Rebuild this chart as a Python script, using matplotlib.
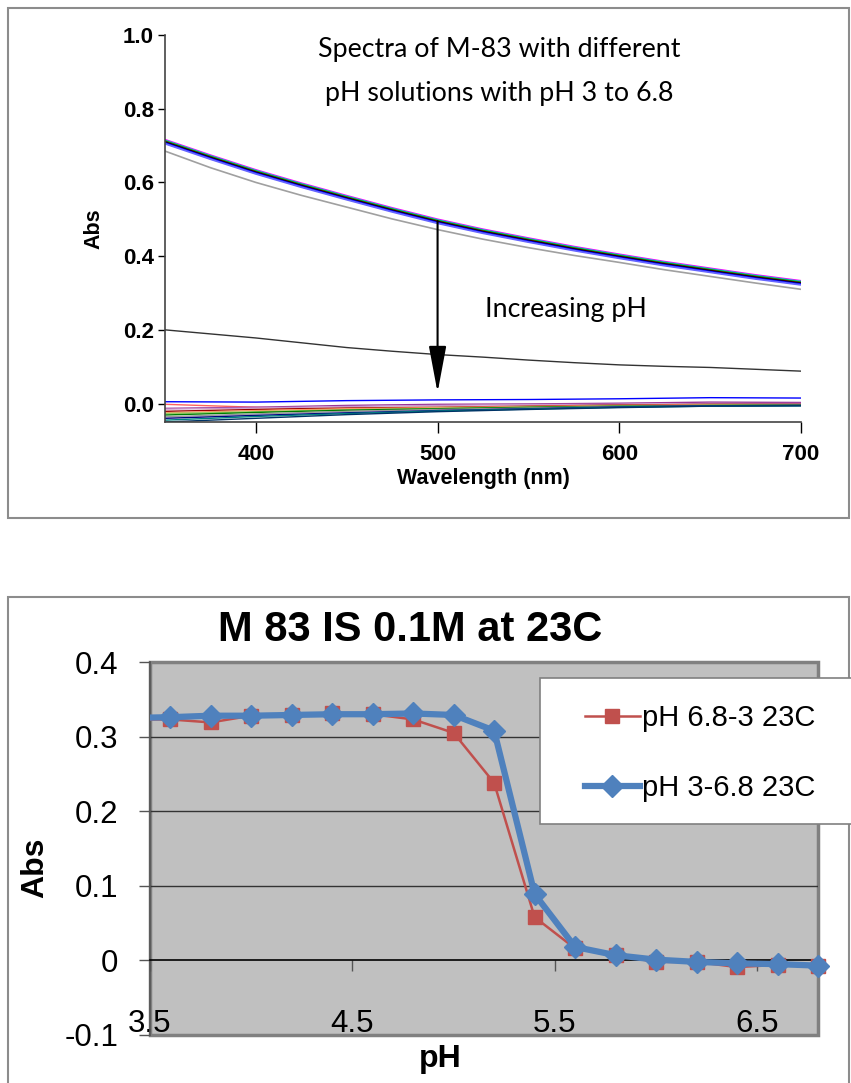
import matplotlib
matplotlib.use("Agg")
import matplotlib.pyplot as plt
from matplotlib.patches import Rectangle
from matplotlib.lines import Line2D

# ---------------- data: top panel (spectra) ----------------
wl = [350, 375, 400, 425, 450, 475, 500, 525, 550, 575, 600, 625, 650, 675, 700]
acid_base = [0.710, 0.668, 0.628, 0.592, 0.558, 0.525, 0.494, 0.467, 0.443,
             0.420, 0.399, 0.379, 0.361, 0.343, 0.327]
acid_offsets = [0.006, 0.004, 0.002, 0.000, -0.001, -0.003, -0.005]
acid_colors = ['#ff00ff', '#00cccc', '#00a000', '#990000', '#000000', '#0000ff', '#6666ff']
gray_curve = [0.685, 0.640, 0.600, 0.565, 0.533, 0.501, 0.472, 0.446, 0.423,
              0.402, 0.383, 0.363, 0.345, 0.327, 0.310]
mid_curve = [0.200, 0.189, 0.178, 0.165, 0.152, 0.142, 0.133, 0.126, 0.118,
             0.111, 0.105, 0.101, 0.098, 0.093, 0.088]

wl_low = [350, 400, 450, 500, 550, 600, 650, 700]
low_curves = {
    '#0000ff': [0.005, 0.004, 0.008, 0.010, 0.011, 0.013, 0.016, 0.015],
    '#ff6060': [-0.002, -0.010, -0.016, -0.012, -0.008, -0.006, -0.004, -0.003],
    '#993399': [-0.013, -0.010, -0.005, -0.002, -0.001, 0.001, 0.004, 0.003],
    '#cc99cc': [-0.015, -0.012, -0.008, -0.005, -0.003, -0.002, 0.000, 0.000],
    '#990000': [-0.021, -0.016, -0.012, -0.010, -0.007, -0.004, -0.002, -0.002],
    '#ff9966': [-0.025, -0.019, -0.014, -0.011, -0.008, -0.005, -0.003, -0.003],
    '#99cc66': [-0.027, -0.022, -0.017, -0.013, -0.010, -0.007, -0.005, -0.004],
    '#008000': [-0.031, -0.024, -0.018, -0.014, -0.010, -0.007, -0.005, -0.004],
    '#999999': [-0.036, -0.028, -0.021, -0.016, -0.012, -0.008, -0.006, -0.005],
    '#000080': [-0.040, -0.032, -0.025, -0.019, -0.014, -0.009, -0.006, -0.005],
    '#008080': [-0.045, -0.035, -0.027, -0.020, -0.015, -0.010, -0.007, -0.006],
    '#003366': [-0.050, -0.040, -0.030, -0.022, -0.016, -0.011, -0.007, -0.006],
}

# ---------------- data: bottom panel (titration) ----------------
ph = [3.4, 3.6, 3.8, 4.0, 4.2, 4.4, 4.6, 4.8, 5.0, 5.2, 5.4, 5.6, 5.8, 6.0, 6.2, 6.4, 6.6, 6.8]
abs_down = [0.323, 0.323, 0.319, 0.328, 0.329, 0.331, 0.330, 0.323, 0.305, 0.238, 0.058,
            0.016, 0.007, -0.002, -0.002, -0.009, -0.006, -0.007]
abs_up = [0.325, 0.326, 0.328, 0.328, 0.329, 0.330, 0.330, 0.331, 0.329, 0.308, 0.089,
          0.018, 0.007, 0.001, -0.002, -0.004, -0.005, -0.007]
label_down = 'pH 6.8-3 23C'
label_up = 'pH 3-6.8 23C'

W, H = 851, 1083
fig = plt.figure(figsize=(W / 100, H / 100), dpi=100)

def fx(px):
    return px / W

def fy(py):
    return 1 - py / H

# outer frames
fig.patches.append(Rectangle((fx(8), fy(518)), fx(841), 510 / H, transform=fig.transFigure,
                             fill=False, edgecolor='#8c8c8c', lw=1.5))
fig.patches.append(Rectangle((fx(8), fy(1095)), fx(841), 498 / H, transform=fig.transFigure,
                             fill=False, edgecolor='#8c8c8c', lw=1.5))

# ---------------- top axes ----------------
ax1 = fig.add_axes([fx(165), fy(422), fx(801 - 165), (422 - 35) / H])
ax1.set_xlim(350, 700)
ax1.set_ylim(-0.05, 1.0)
ax1.patch.set_alpha(0)

for col, vals in low_curves.items():
    ax1.plot(wl_low, vals, color=col, lw=1.0)
ax1.plot(wl, mid_curve, color='#333333', lw=1.0)
ax1.plot(wl, gray_curve, color='#a0a0a0', lw=1.2)
for off, col in zip(acid_offsets, acid_colors):
    ax1.plot(wl, [v + off for v in acid_base], color=col, lw=1.3)

ax1.annotate('', xy=(500, 0.03), xytext=(500, 0.495),
             arrowprops=dict(arrowstyle='-|>,head_length=1.6,head_width=0.3',
                             mutation_scale=18, color='black', lw=1.5,
                             shrinkA=0, shrinkB=0))

for s in ['top', 'right']:
    ax1.spines[s].set_visible(False)
for s in ['left', 'bottom']:
    ax1.spines[s].set_color('#444444')
    ax1.spines[s].set_linewidth(1.2)
ax1.set_xticks([400, 500, 600, 700])
ax1.set_yticks([0.0, 0.2, 0.4, 0.6, 0.8, 1.0])
ax1.set_yticklabels(['0.0', '0.2', '0.4', '0.6', '0.8', '1.0'])
ax1.tick_params(axis='x', direction='out', length=8, width=1, pad=8, labelsize=16)
ax1.tick_params(axis='y', direction='out', length=5, width=1, pad=3, labelsize=16)
for lab in ax1.get_xticklabels() + ax1.get_yticklabels():
    lab.set_fontfamily('Liberation Sans')
    lab.set_fontweight('bold')
ax1.set_xlabel('Wavelength (nm)', fontsize=15.5, fontweight='bold',
               fontfamily='Liberation Sans', labelpad=2)
ax1.set_ylabel('Abs', fontsize=15.5, fontweight='bold', fontfamily='Liberation Sans', labelpad=13)

fig.text(fx(499), fy(50), 'Spectra of M-83 with different', fontfamily='Lato', fontsize=19.3,
         ha='center', va='center')
fig.text(fx(499), fy(93), 'pH solutions with pH 3 to 6.8', fontfamily='Lato', fontsize=19.3,
         ha='center', va='center')
fig.text(fx(566), fy(310), 'Increasing pH', fontfamily='Lato', fontsize=19.3,
         ha='center', va='center')

# ---------------- bottom axes ----------------
ax2 = fig.add_axes([fx(150), fy(1035), fx(818 - 150), (1035 - 662) / H])
ax2.set_facecolor('#c0c0c0')
ax2.set_xlim(3.5, 6.8)
ax2.set_ylim(-0.1, 0.4)
ax2.set_yticks([-0.1, 0, 0.1, 0.2, 0.3, 0.4])
ax2.set_yticklabels(['-0.1', '0', '0.1', '0.2', '0.3', '0.4'])
ax2.set_xticks([3.5, 4.5, 5.5, 6.5])
ax2.set_xticklabels(['3.5', '4.5', '5.5', '6.5'])
for yv in [0.1, 0.2, 0.3]:
    ax2.axhline(yv, color='#333333', lw=1.0, zorder=1)

ax2.spines['bottom'].set_position(('data', 0))
ax2.spines['bottom'].set_color('black')
ax2.spines['bottom'].set_linewidth(1.2)
ax2.spines['left'].set_color('#555555')
ax2.spines['left'].set_linewidth(1.2)
for s in ['top', 'right']:
    ax2.spines[s].set_visible(False)
ax2.add_patch(Rectangle((0, 0), 1, 1, transform=ax2.transAxes, fill=False,
                        edgecolor='#808080', lw=2.5, zorder=0.5, clip_on=False))

ax2.tick_params(axis='x', direction='out', length=8, width=1, color='#555555',
                pad=27, labelsize=22.5)
ax2.tick_params(axis='y', direction='out', length=8, width=1, color='#555555',
                pad=15, labelsize=22.5)
for lab in ax2.get_xticklabels() + ax2.get_yticklabels():
    lab.set_fontfamily('Liberation Sans')

red = '#c0504d'
blue = '#4f81bd'
ax2.plot(ph, abs_down, color=red, lw=1.8, zorder=3)
ax2.plot(ph[1:], abs_down[1:], ls='none', marker='s', ms=10, color=red, zorder=3, clip_on=False)
ax2.plot(ph, abs_up, color=blue, lw=4.5, zorder=4, solid_joinstyle='round')
ax2.plot(ph[1:], abs_up[1:], ls='none', marker='D', ms=11, color=blue, zorder=4, clip_on=False)

ax2.set_xlabel('pH', fontsize=23, fontweight='bold', fontfamily='Liberation Sans')
ax2.xaxis.set_label_coords(0.435, -0.025)
ax2.set_ylabel('Abs', fontsize=23, fontweight='bold', fontfamily='Liberation Sans')
ax2.yaxis.set_label_coords(-0.15, 0.448)

fig.text(fx(410), fy(630), 'M 83 IS 0.1M at 23C', fontsize=30, fontweight='bold',
         fontfamily='Liberation Sans', ha='center', va='center')

# legend
fig.patches.append(Rectangle((fx(540), fy(824)), fx(330), (824 - 678) / H,
                             transform=fig.transFigure, facecolor='white',
                             edgecolor='#808080', lw=1.2, zorder=2))
handles = [Line2D([], [], color=red, lw=1.8, marker='s', ms=10),
           Line2D([], [], color=blue, lw=4.5, marker='D', ms=11)]
leg = fig.legend(handles, [label_down, label_up], loc='center left',
                 bbox_to_anchor=(fx(573), fy(753)), frameon=False, borderaxespad=0,
                 prop={'family': 'Liberation Sans', 'size': 21},
                 handlelength=1.9, handletextpad=0.05, labelspacing=1.45)
leg.set_zorder(3)

fig.savefig('out.png', dpi=100)
